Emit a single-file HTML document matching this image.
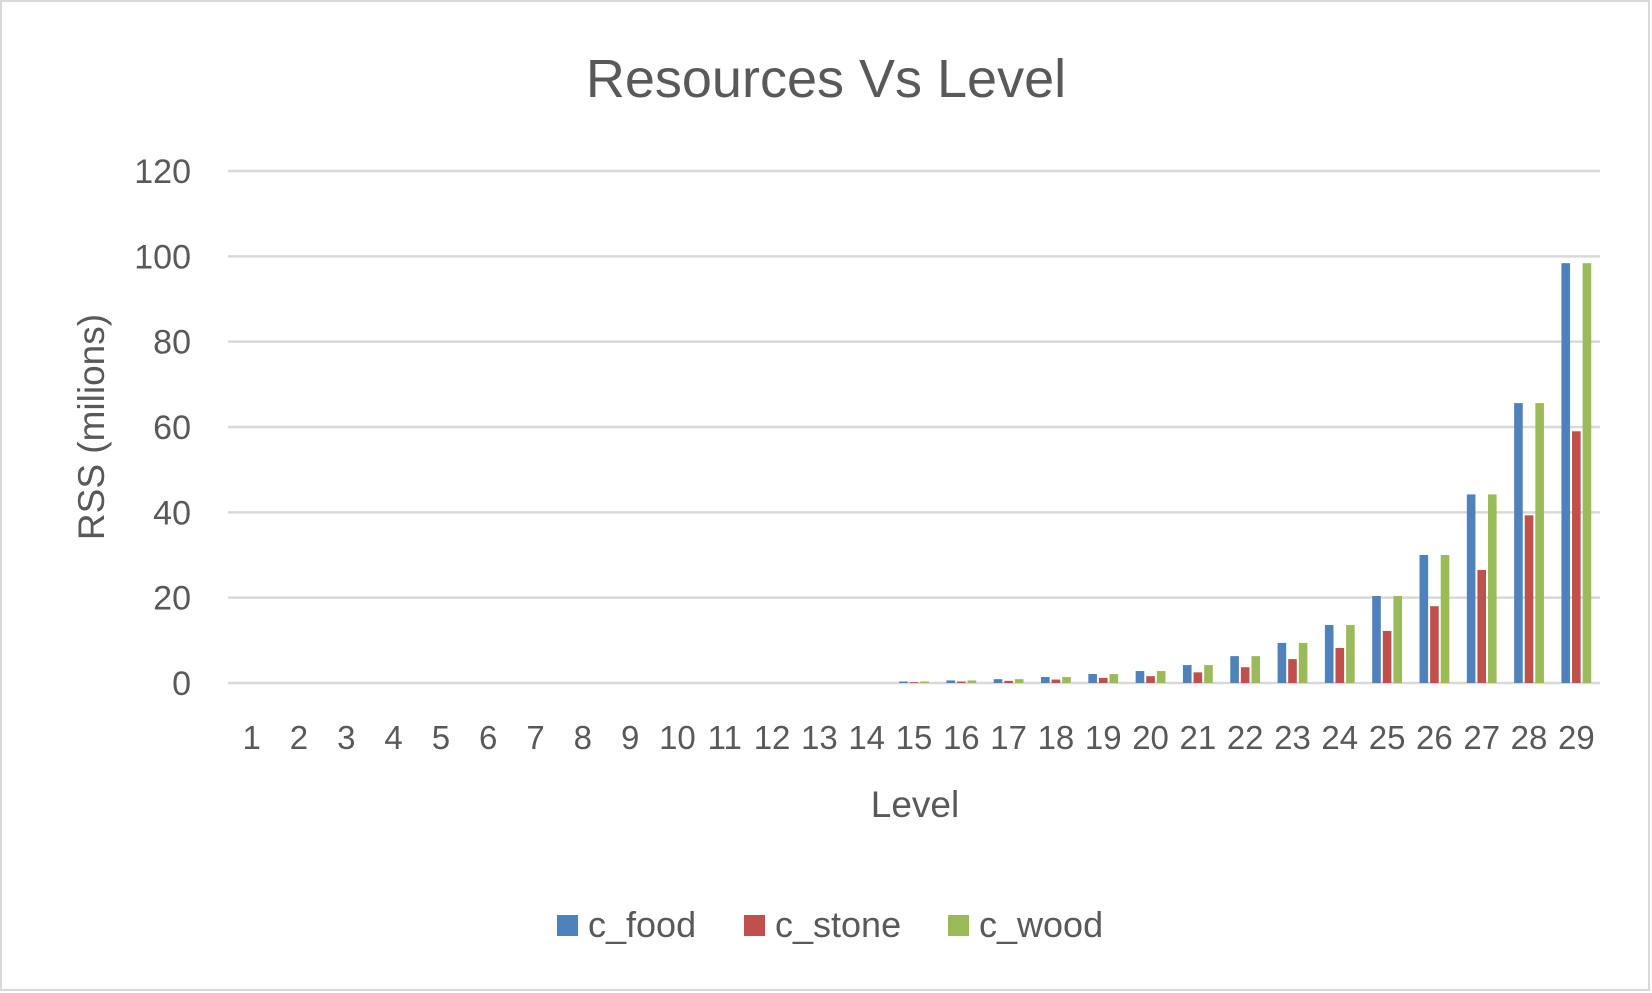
<!DOCTYPE html>
<html><head><meta charset="utf-8"><style>
html,body{margin:0;padding:0;background:#fff;}
svg{display:block;font-family:"Liberation Sans",sans-serif;}
</style></head><body>
<svg id="chart" width="1652" height="993" viewBox="0 0 1652 993">
<rect x="1" y="1" width="1648" height="989" fill="#fff" stroke="#d9d9d9" stroke-width="2"/>
<text x="826" y="97" text-anchor="middle" font-size="54" fill="#595959">Resources Vs Level</text>
<g id="grid"></g><g id="bars"></g><g id="xlabels"></g><g id="ylabels"></g>
<text transform="translate(104,427) rotate(-90)" text-anchor="middle" font-size="37" fill="#595959">RSS (milions)</text>
<text x="915" y="817" text-anchor="middle" font-size="37" fill="#595959">Level</text>
<g>
<rect x="557" y="915" width="21" height="21" fill="#4f81bd"/>
<text x="588" y="937" font-size="36" fill="#595959">c_food</text>
<rect x="744" y="915" width="21" height="21" fill="#c0504d"/>
<text x="775" y="937" font-size="36" fill="#595959">c_stone</text>
<rect x="948" y="915" width="21" height="21" fill="#9bbb59"/>
<text x="979" y="937" font-size="36" fill="#595959">c_wood</text>
</g>
</svg>
<script>
const categories = [1,2,3,4,5,6,7,8,9,10,11,12,13,14,15,16,17,18,19,20,21,22,23,24,25,26,27,28,29];
const foodValues = [0,0,0,0,0,0,0,0,0,0,0,0,0,0,0.35,0.6,0.9,1.4,2.1,2.8,4.2,6.3,9.4,13.6,20.4,30.0,44.2,65.6,98.4];
const stoneValues = [0,0,0,0,0,0,0,0,0,0,0,0,0,0,0.2,0.35,0.5,0.8,1.2,1.6,2.5,3.7,5.6,8.2,12.2,18.0,26.5,39.3,59.0];
const woodValues = [0,0,0,0,0,0,0,0,0,0,0,0,0,0,0.35,0.6,0.9,1.4,2.1,2.8,4.2,6.3,9.4,13.6,20.4,30.0,44.2,65.6,98.4];
const yTicks = [0,20,40,60,80,100,120];

const NS="http://www.w3.org/2000/svg";
const left=228,right=1600,y0=683,yMax=120,yTop=171;
const bandW=(right-left)/categories.length;
function xScale(i){return left+i*bandW;}
function yScale(v){return y0-(v/yMax)*(y0-yTop);}
function mk(tag,attrs,parent){const e=document.createElementNS(NS,tag);for(const k in attrs)e.setAttribute(k,attrs[k]);parent.appendChild(e);return e;}
const grid=document.getElementById('grid'),ylab=document.getElementById('ylabels'),xlab=document.getElementById('xlabels'),bars=document.getElementById('bars');
yTicks.forEach(t=>{
  const l=mk('line',{x1:left,x2:right,y1:yScale(t),y2:yScale(t),stroke:'#d9d9d9','stroke-width':2.5},grid);
  
  
  const tx=mk('text',{x:191,y:yScale(t)+12,'text-anchor':'end','font-size':34,fill:'#595959'},ylab);
  tx.textContent=t;
  
  
});
const series=[[foodValues,'#4f81bd','food'],[stoneValues,'#c0504d','stone'],[woodValues,'#9bbb59','wood']];
const bw=8.6,gap=2;
categories.forEach((c,i)=>{
  const cx=xScale(i)+bandW/2;
  series.forEach((s,j)=>{
    const v=s[0][i];
    const x=cx-(1.5*bw+gap)+j*(bw+gap);
    const r=mk('rect',{x:x,y:yScale(v),width:bw,height:Math.max(0,y0-yScale(v)),fill:s[1]},bars);
    
    
  });
  const tx=mk('text',{x:cx,y:749,'text-anchor':'middle','font-size':33,fill:'#595959'},xlab);
  tx.textContent=c;
  
  
});
</script>
</body></html>
